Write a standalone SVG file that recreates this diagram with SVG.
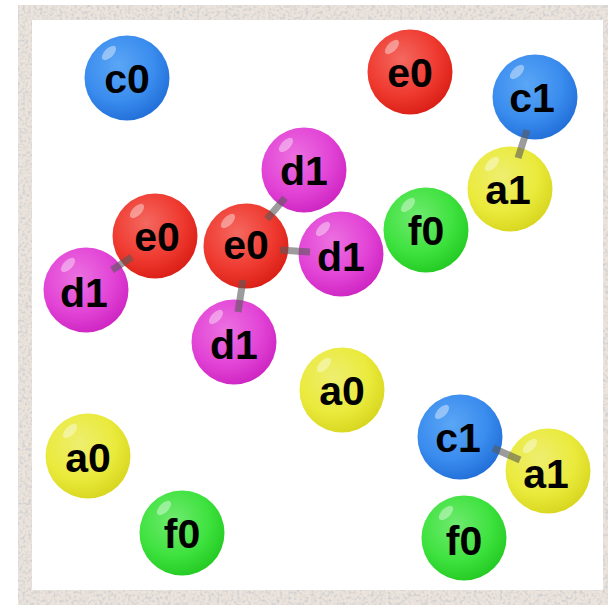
<svg xmlns="http://www.w3.org/2000/svg" width="608" height="605" viewBox="0 0 608 605">
<style>
.lbl{font-family:"Liberation Sans",Arial,sans-serif;font-weight:bold;font-size:41px;fill:#000;text-anchor:middle}
.hl{fill:#fff;opacity:0.4}
.bond{stroke:#5a5a5a;stroke-opacity:0.6;stroke-width:7;stroke-linecap:butt}
</style>
<defs>
<radialGradient id="gBlue" cx="0.4" cy="0.35" r="0.7"><stop offset="0" stop-color="#5aa6f6"/><stop offset="0.6" stop-color="#3a8cee"/><stop offset="1" stop-color="#1f6cd6"/></radialGradient>
<radialGradient id="gRed" cx="0.4" cy="0.35" r="0.7"><stop offset="0" stop-color="#f46860"/><stop offset="0.6" stop-color="#ef3a30"/><stop offset="1" stop-color="#d81c14"/></radialGradient>
<radialGradient id="gMag" cx="0.4" cy="0.35" r="0.7"><stop offset="0" stop-color="#ec70e0"/><stop offset="0.6" stop-color="#e244d6"/><stop offset="1" stop-color="#cc22c0"/></radialGradient>
<radialGradient id="gGrn" cx="0.4" cy="0.35" r="0.7"><stop offset="0" stop-color="#70ea70"/><stop offset="0.6" stop-color="#3ee23e"/><stop offset="1" stop-color="#22c822"/></radialGradient>
<radialGradient id="gYel" cx="0.4" cy="0.35" r="0.7"><stop offset="0" stop-color="#eeee70"/><stop offset="0.6" stop-color="#eaea3c"/><stop offset="1" stop-color="#d6d41c"/></radialGradient>
<filter id="speck" x="0" y="0" width="1" height="1">
<feTurbulence type="fractalNoise" baseFrequency="0.35" numOctaves="2" seed="4" result="n"/>
<feColorMatrix in="n" type="matrix" values="0 0 0 0 0.55  0 0 0 0 0.58  0 0 0 0 0.62  0 0 0 -2.2 1.25" result="s"/>
<feComposite in="s" in2="SourceGraphic" operator="in" result="c"/>
<feMerge><feMergeNode in="SourceGraphic"/><feMergeNode in="c"/></feMerge>
</filter>
<g id="hlt"><ellipse cx="-18" cy="-25" rx="9" ry="4.5" transform="rotate(-45 -18 -25)" class="hl"/></g>
</defs>
<rect x="0" y="0" width="608" height="605" fill="#ffffff"/>
<rect x="18" y="5" width="590" height="600" fill="#ece4dc" filter="url(#speck)"/>
<rect x="32" y="20" width="571" height="570" fill="#ffffff"/>

<g id="n-c0"><circle cx="127" cy="78" r="42.5" fill="url(#gBlue)"/><use href="#hlt" x="127" y="78"/><text class="lbl" x="127" y="93">c0</text></g>
<g id="n-e0-top"><circle cx="410" cy="72" r="42.5" fill="url(#gRed)"/><use href="#hlt" x="410" y="72"/><text class="lbl" x="410" y="87">e0</text></g>
<g id="n-c1-top"><circle cx="535" cy="97" r="42.5" fill="url(#gBlue)"/><use href="#hlt" x="535" y="97"/><text class="lbl" x="532" y="112">c1</text></g>
<g id="n-a1-top"><circle cx="510" cy="189" r="42.5" fill="url(#gYel)"/><use href="#hlt" x="510" y="189"/><text class="lbl" x="508" y="204">a1</text></g>
<g id="n-d1-top"><circle cx="304" cy="170" r="42.5" fill="url(#gMag)"/><use href="#hlt" x="304" y="170"/><text class="lbl" x="304" y="185">d1</text></g>
<g id="n-f0-mid"><circle cx="426" cy="230" r="42.5" fill="url(#gGrn)"/><use href="#hlt" x="426" y="230"/><text class="lbl" x="426" y="245">f0</text></g>
<g id="n-e0-left"><circle cx="155" cy="236" r="42.5" fill="url(#gRed)"/><use href="#hlt" x="155" y="236"/><text class="lbl" x="157" y="251">e0</text></g>
<g id="n-d1-left"><circle cx="86" cy="290" r="42.5" fill="url(#gMag)"/><use href="#hlt" x="86" y="290"/><text class="lbl" x="84" y="307">d1</text></g>
<g id="n-e0-center"><circle cx="246" cy="246" r="42.5" fill="url(#gRed)"/><use href="#hlt" x="246" y="246"/><text class="lbl" x="246" y="259">e0</text></g>
<g id="n-d1-right"><circle cx="341" cy="254" r="42.5" fill="url(#gMag)"/><use href="#hlt" x="341" y="254"/><text class="lbl" x="341" y="271">d1</text></g>
<g id="n-d1-bottom"><circle cx="234" cy="342" r="42.5" fill="url(#gMag)"/><use href="#hlt" x="234" y="342"/><text class="lbl" x="234" y="359">d1</text></g>
<g id="n-a0-mid"><circle cx="342" cy="390" r="42.5" fill="url(#gYel)"/><use href="#hlt" x="342" y="390"/><text class="lbl" x="342" y="405">a0</text></g>
<g id="n-a0-left"><circle cx="88" cy="456" r="42.5" fill="url(#gYel)"/><use href="#hlt" x="88" y="456"/><text class="lbl" x="88" y="472">a0</text></g>
<g id="n-c1-bottom"><circle cx="460" cy="437" r="42.5" fill="url(#gBlue)"/><use href="#hlt" x="460" y="437"/><text class="lbl" x="458" y="452">c1</text></g>
<g id="n-a1-bottom"><circle cx="548" cy="471" r="42.5" fill="url(#gYel)"/><use href="#hlt" x="548" y="471"/><text class="lbl" x="546" y="488">a1</text></g>
<g id="n-f0-left"><circle cx="182" cy="533" r="42.5" fill="url(#gGrn)"/><use href="#hlt" x="182" y="533"/><text class="lbl" x="182" y="548">f0</text></g>
<g id="n-f0-right"><circle cx="464" cy="538" r="42.5" fill="url(#gGrn)"/><use href="#hlt" x="464" y="538"/><text class="lbl" x="464" y="555">f0</text></g>

<g id="connectors">
<line class="bond" x1="527" y1="130" x2="518" y2="158"/>
<line class="bond" x1="285" y1="198" x2="267" y2="219"/>
<line class="bond" x1="280" y1="250" x2="310" y2="252"/>
<line class="bond" x1="243" y1="280" x2="238" y2="312"/>
<line class="bond" x1="132" y1="257" x2="112" y2="270"/>
<line class="bond" x1="493" y1="448" x2="520" y2="460"/>
</g>
</svg>
